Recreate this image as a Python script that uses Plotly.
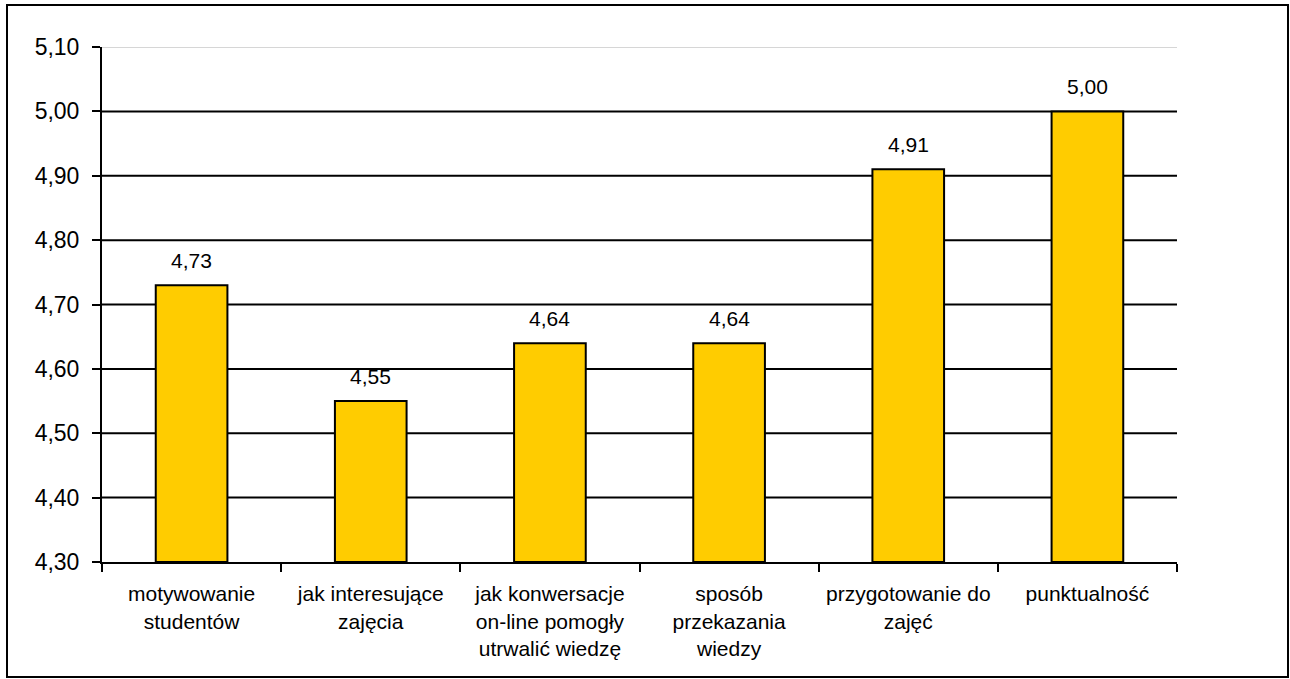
import plotly.graph_objects as go

categories = ["motywowanie<br>studentów", "jak interesujące<br>zajęcia",
              "jak konwersacje<br>on-line pomogły<br>utrwalić wiedzę",
              "sposób<br>przekazania<br>wiedzy", "przygotowanie do<br>zajęć", "punktualność"]
values = [4.73, 4.55, 4.64, 4.64, 4.91, 5.00]
y_ticks = [4.30, 4.40, 4.50, 4.60, 4.70, 4.80, 4.90, 5.00, 5.10]
y_tick_text = ["4,30", "4,40", "4,50", "4,60", "4,70", "4,80", "4,90", "5,00", "5,10"]

W, H = 1290, 679
ml, mr, mt, mb = 102, 113, 47, 117
pw, ph = W - ml - mr, H - mt - mb
FONT = "Liberation Sans, Arial"

def px_x(p):
    return (p - ml) / pw

def px_y(p):
    return (H - mb - p) / ph

fig = go.Figure()
fig.add_trace(go.Bar(
    x=categories, y=[v - y_ticks[0] for v in values], base=y_ticks[0],
    marker=dict(color="#FFCC00", line=dict(color="black", width=2)),
    hoverinfo="skip",
))

annotations = []
for c, v in zip(categories, values):
    annotations.append(dict(x=c, y=v, xref="x", yref="y", text=f"{v:.2f}".replace(".", ","),
                            showarrow=False, yanchor="bottom", yshift=11,
                            font=dict(family=FONT, size=21, color="black")))

shapes = []
for t in y_ticks[1:-1]:
    shapes.append(dict(type="line", xref="paper", yref="y", x0=0, x1=1, y0=t, y1=t,
                       line=dict(color="black", width=2), layer="below"))
shapes.append(dict(type="line", xref="paper", yref="y", x0=0, x1=1, y0=y_ticks[-1], y1=y_ticks[-1],
                   line=dict(color="#c8c8c8", width=1.5), layer="below"))
shapes.append(dict(type="rect", xref="paper", yref="paper",
                   x0=px_x(7), x1=px_x(1288), y0=px_y(677), y1=px_y(5),
                   line=dict(color="black", width=2), fillcolor="rgba(0,0,0,0)"))

fig.update_layout(
    width=W, height=H,
    margin=dict(l=ml, r=mr, t=mt, b=mb),
    paper_bgcolor="white", plot_bgcolor="white",
    bargap=0.6, showlegend=False,
    font=dict(family=FONT, size=21, color="black"),
    shapes=shapes, annotations=annotations,
)
fig.update_xaxes(
    type="category", showgrid=False, showline=True, linecolor="black", linewidth=2,
    ticks="outside", tickson="boundaries", ticklen=8, tickwidth=2, tickcolor="black",
    tickfont=dict(size=21), zeroline=False, ticklabelstandoff=12,
)
fig.update_yaxes(
    range=[y_ticks[0], y_ticks[-1]], tickvals=y_ticks, ticktext=y_tick_text,
    showgrid=False, showline=True, linecolor="black", linewidth=2,
    ticks="outside", ticklen=8, tickwidth=2, tickcolor="black",
    tickfont=dict(size=23), zeroline=False, ticklabelstandoff=8,
)

fig.write_html("out.html", config={"displayModeBar": False},
               post_script="document.body.style.margin='0px';")
